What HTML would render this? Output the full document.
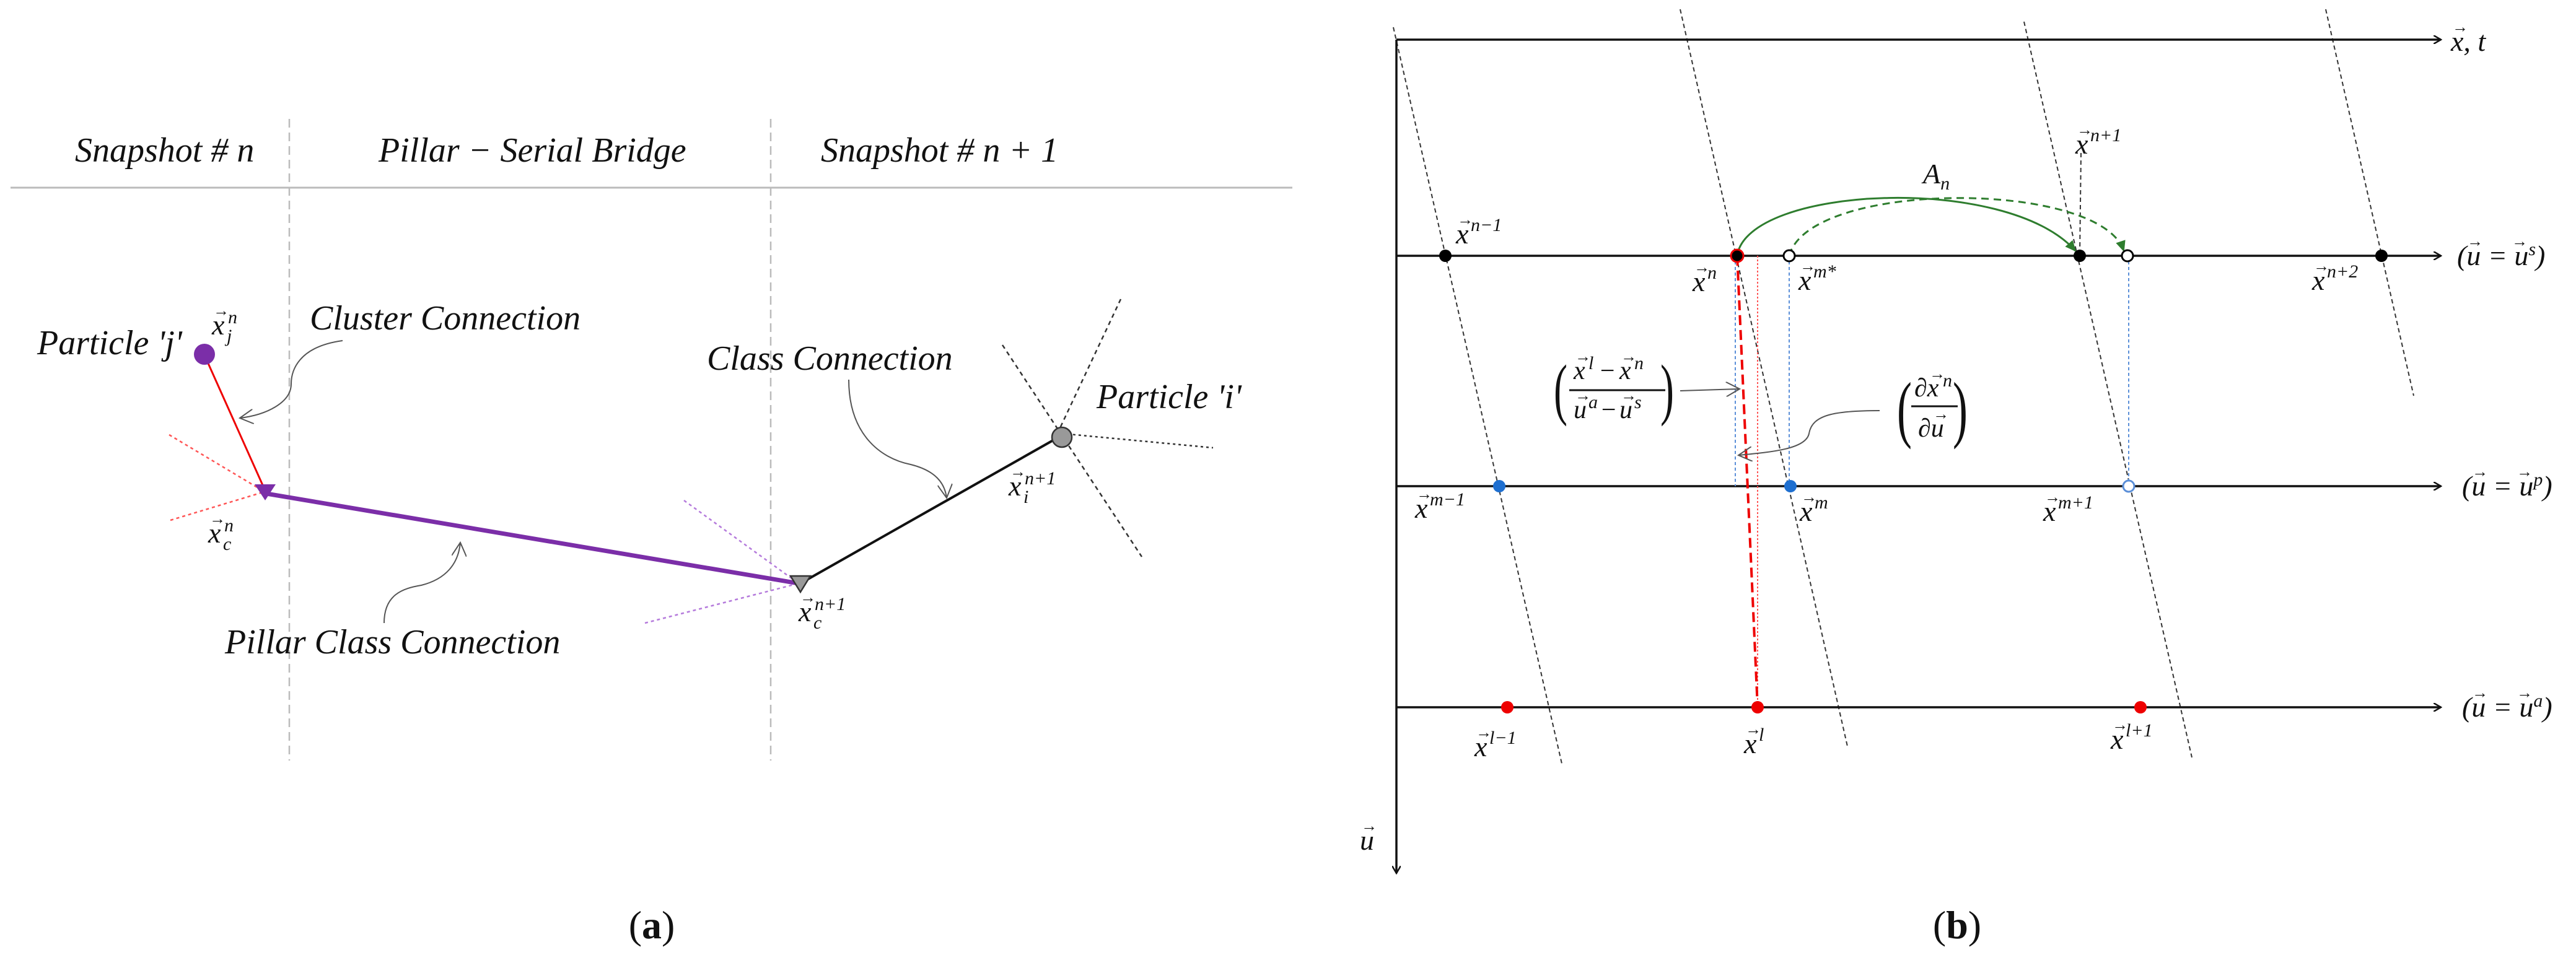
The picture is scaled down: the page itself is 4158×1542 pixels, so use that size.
<!DOCTYPE html>
<html><head><meta charset="utf-8"><style>
html,body{margin:0;padding:0;background:#fff}
svg{display:block}
text{font-family:"Liberation Serif",serif;font-style:italic;fill:#111}
.h{font-size:56px}
.m{font-size:46px}
.s{font-size:30px}
.a{font-size:26px;font-style:normal}
.p{font-style:normal;font-size:64px}
</style></head><body>
<svg width="4158" height="1542" viewBox="0 0 4158 1542" xmlns="http://www.w3.org/2000/svg">
<defs>
<marker id="ah" markerWidth="14" markerHeight="14" refX="12" refY="7" orient="auto" markerUnits="userSpaceOnUse"><path d="M0,0 L12,7 L0,14" fill="none" stroke="#111" stroke-width="2.5"/></marker>
<marker id="ahg" markerWidth="20" markerHeight="20" refX="16" refY="10" orient="auto" markerUnits="userSpaceOnUse"><path d="M0,2 L18,10 L0,18 z" fill="#2e7d2e"/></marker>
<marker id="ahs" markerWidth="24" markerHeight="24" refX="22" refY="12" orient="auto" markerUnits="userSpaceOnUse"><path d="M0,0 L22,12 L0,24" fill="none" stroke="#555" stroke-width="2"/></marker>
</defs>

<!-- ===== Panel (a) ===== -->
<line x1="17" y1="303" x2="2086" y2="303" stroke="#bbb" stroke-width="3"/>
<line x1="467" y1="192" x2="467" y2="1228" stroke="#bbb" stroke-width="2.5" stroke-dasharray="14,8"/>
<line x1="1244" y1="192" x2="1244" y2="1228" stroke="#bbb" stroke-width="2.5" stroke-dasharray="14,8"/>
<text class="h" x="121" y="261">Snapshot # n</text>
<text class="h" x="611" y="261">Pillar  − Serial Bridge</text>
<text class="h" x="1325" y="261">Snapshot # n + 1</text>

<line x1="273" y1="702" x2="427" y2="794" stroke="#f55" stroke-width="2.5" stroke-dasharray="5,5"/>
<line x1="275" y1="840" x2="427" y2="794" stroke="#f55" stroke-width="2.5" stroke-dasharray="5,5"/>
<line x1="1104" y1="808" x2="1289" y2="942" stroke="#b57bdc" stroke-width="2.5" stroke-dasharray="5,5"/>
<line x1="1041" y1="1006" x2="1289" y2="942" stroke="#b57bdc" stroke-width="2.5" stroke-dasharray="5,5"/>
<line x1="1618" y1="557" x2="1843" y2="899" stroke="#333" stroke-width="2.5" stroke-dasharray="7,6"/>
<line x1="1809" y1="483" x2="1703" y2="708" stroke="#333" stroke-width="2.5" stroke-dasharray="7,6"/>
<line x1="1714" y1="700" x2="1958" y2="723" stroke="#333" stroke-width="2.5" stroke-dasharray="4,5"/>

<line x1="333" y1="580" x2="427" y2="790" stroke="#e00" stroke-width="3"/>
<line x1="430" y1="797" x2="1289" y2="942" stroke="#7b2ea8" stroke-width="7"/>
<line x1="1292" y1="942" x2="1705" y2="708" stroke="#111" stroke-width="4"/>
<circle cx="330" cy="572" r="17" fill="#7b2ea8"/>
<path d="M411,782 L445,782 L428,808 z" fill="#7b2ea8"/>
<path d="M1276,930 L1308,930 L1292,956 z" fill="#999" stroke="#333" stroke-width="2.5"/>
<circle cx="1714" cy="706" r="16" fill="#999" stroke="#333" stroke-width="2.5"/>

<path d="M553,550 C480,560 470,600 470,620 C470,650 430,670 387,675" fill="none" stroke="#555" stroke-width="2" marker-end="url(#ahs)"/>
<path d="M1370,613 C1370,700 1420,740 1470,750 C1510,760 1525,780 1528,804" fill="none" stroke="#555" stroke-width="2" marker-end="url(#ahs)"/>
<path d="M620,1006 C620,960 650,950 680,945 C720,935 740,910 743,876" fill="none" stroke="#555" stroke-width="2" marker-end="url(#ahs)"/>

<text class="h" x="60" y="572">Particle 'j'</text>
<text class="m" x="342" y="540">x</text><text class="a" x="344" y="510">→</text><text class="s" x="368" y="522">n</text><text class="s" x="366" y="552">j</text>
<text class="h" x="500" y="532">Cluster Connection</text>
<text class="h" x="1141" y="597">Class Connection</text>
<text class="h" x="1770" y="659">Particle 'i'</text>
<text class="m" x="1628" y="800">x</text><text class="a" x="1630" y="770">→</text><text class="s" x="1654" y="782">n+1</text><text class="s" x="1652" y="812">i</text>
<text class="m" x="336" y="876">x</text><text class="a" x="338" y="846">→</text><text class="s" x="362" y="858">n</text><text class="s" x="360" y="888">c</text>
<text class="m" x="1289" y="1003">x</text><text class="a" x="1291" y="973">→</text><text class="s" x="1315" y="985">n+1</text><text class="s" x="1313" y="1015">c</text>
<text class="h" x="363" y="1055">Pillar Class Connection</text>
<text class="p" x="1052" y="1515" text-anchor="middle">(<tspan font-weight="bold">a</tspan>)</text>

<!-- ===== Panel (b) ===== -->
<g stroke="#333" stroke-width="2" stroke-dasharray="7,5">
<line x1="2249" y1="44" x2="2521" y2="1233"/>
<line x1="2712" y1="15" x2="2982" y2="1205"/>
<line x1="3267" y1="35" x2="3538" y2="1223"/>
<line x1="3754" y1="15" x2="3896" y2="639"/>
<line x1="3359" y1="247" x2="3357" y2="413"/>
</g>
<g stroke="#111" stroke-width="3.5" fill="none">
<line x1="2254" y1="64" x2="2254" y2="1410" marker-end="url(#ah)"/>
<line x1="2254" y1="64" x2="3940" y2="64" marker-end="url(#ah)"/>
<line x1="2254" y1="413" x2="3940" y2="413" marker-end="url(#ah)"/>
<line x1="2254" y1="785" x2="3940" y2="785" marker-end="url(#ah)"/>
<line x1="2254" y1="1142" x2="3940" y2="1142" marker-end="url(#ah)"/>
</g>
<g stroke="#5b8fd8" stroke-width="2" stroke-dasharray="5,4">
<line x1="2801" y1="413" x2="2801" y2="785"/>
<line x1="2888" y1="413" x2="2888" y2="785"/>
<line x1="3436" y1="413" x2="3436" y2="785"/>
</g>
<line x1="2837" y1="413" x2="2837" y2="1142" stroke="#f55" stroke-width="2" stroke-dasharray="3,3"/>
<line x1="2804" y1="413" x2="2837" y2="1142" stroke="#e00" stroke-width="4" stroke-dasharray="16,8"/>
<path d="M2804,413 C2820,300 3240,280 3350,405" fill="none" stroke="#2e7d2e" stroke-width="3" marker-end="url(#ahg)"/>
<path d="M2888,413 C2920,290 3390,290 3428,405" fill="none" stroke="#2e7d2e" stroke-width="3" stroke-dasharray="12,8" marker-end="url(#ahg)"/>
<circle cx="2333" cy="413" r="10" fill="#000"/>
<circle cx="2804" cy="413" r="10" fill="#000" stroke="#e00" stroke-width="3"/>
<circle cx="2888" cy="413" r="9" fill="#fff" stroke="#000" stroke-width="3"/>
<circle cx="3357" cy="413" r="10" fill="#000"/>
<circle cx="3434" cy="413" r="9" fill="#fff" stroke="#000" stroke-width="3"/>
<circle cx="3844" cy="413" r="10" fill="#000"/>
<circle cx="2420" cy="785" r="10" fill="#1e6fd0"/>
<circle cx="2890" cy="785" r="10" fill="#1e6fd0"/>
<circle cx="3436" cy="785" r="9" fill="#fff" stroke="#5b8fd8" stroke-width="3"/>
<circle cx="2433" cy="1142" r="10" fill="#e00"/>
<circle cx="2837" cy="1142" r="10" fill="#e00"/>
<circle cx="3455" cy="1142" r="10" fill="#e00"/>

<!-- fraction (x^l - x^n)/(u^a - u^s) -->
<text x="2508" y="665" style="font-size:110px;font-style:normal;font-weight:100" transform="translate(2508,0) scale(0.6,1) translate(-2508,0)">(</text>
<text class="m" x="2540" y="612" style="font-size:42px">x</text><text class="a" x="2542" y="584">→</text><text class="s" x="2564" y="596">l</text>
<text class="m" x="2580" y="612" style="font-size:42px">−</text>
<text class="m" x="2614" y="612" style="font-size:42px">x</text><text class="a" x="2616" y="584">→</text><text class="s" x="2638" y="596">n</text>
<line x1="2533" y1="630" x2="2688" y2="630" stroke="#111" stroke-width="3"/>
<text class="m" x="2540" y="675" style="font-size:42px">u</text><text class="a" x="2542" y="647">→</text><text class="s" x="2564" y="659">a</text>
<text class="m" x="2582" y="675" style="font-size:42px">−</text>
<text class="m" x="2614" y="675" style="font-size:42px">u</text><text class="a" x="2616" y="647">→</text><text class="s" x="2638" y="659">s</text>
<text x="2680" y="665" style="font-size:110px;font-style:normal" transform="translate(2680,0) scale(0.6,1) translate(-2680,0)">)</text>
<path d="M2712,631 L2808,628" fill="none" stroke="#555" stroke-width="2" marker-end="url(#ahs)"/>

<!-- fraction dx^n/du -->
<text x="3062" y="700" style="font-size:120px;font-style:normal" transform="translate(3062,0) scale(0.6,1) translate(-3062,0)">(</text>
<text x="3090" y="640" style="font-size:42px">∂x</text><text class="a" x="3114" y="612">→</text><text class="s" x="3136" y="624">n</text>
<line x1="3085" y1="656" x2="3160" y2="656" stroke="#111" stroke-width="3"/>
<text x="3096" y="705" style="font-size:42px">∂u</text><text class="a" x="3120" y="677">→</text>
<text x="3152" y="700" style="font-size:120px;font-style:normal" transform="translate(3152,0) scale(0.6,1) translate(-3152,0)">)</text>
<path d="M3034,663 C2960,663 2925,670 2920,700 C2915,725 2860,730 2806,735" fill="none" stroke="#555" stroke-width="2" marker-end="url(#ahs)"/>

<!-- axis labels -->
<text class="m" x="3956" y="82">x, t</text><text class="a" x="3958" y="52">→</text>
<text class="m" x="2195" y="1372">u</text><text class="a" x="2197" y="1342">→</text>
<text class="m" x="3966" y="428">(u = u<tspan class="s" dy="-16">s</tspan><tspan dy="16">)</tspan></text><text class="a" x="3982" y="398">→</text><text class="a" x="4054" y="398">→</text>
<text class="m" x="3974" y="800">(u = u<tspan class="s" dy="-16">p</tspan><tspan dy="16">)</tspan></text><text class="a" x="3990" y="770">→</text><text class="a" x="4062" y="770">→</text>
<text class="m" x="3974" y="1157">(u = u<tspan class="s" dy="-16">a</tspan><tspan dy="16">)</tspan></text><text class="a" x="3990" y="1127">→</text><text class="a" x="4062" y="1127">→</text>
<text class="m" x="3104" y="296">A<tspan class="s" dy="10">n</tspan></text>

<!-- point labels: x, arrow, superscript -->
<text class="m" x="2350" y="393">x</text><text class="a" x="2352" y="363">→</text><text class="s" x="2374" y="373">n−1</text>
<text class="m" x="2732" y="470">x</text><text class="a" x="2734" y="440">→</text><text class="s" x="2756" y="450">n</text>
<text class="m" x="2903" y="468">x</text><text class="a" x="2905" y="438">→</text><text class="s" x="2927" y="448">m*</text>
<text class="m" x="3350" y="248">x</text><text class="a" x="3352" y="218">→</text><text class="s" x="3374" y="228">n+1</text>
<text class="m" x="3732" y="468">x</text><text class="a" x="3734" y="438">→</text><text class="s" x="3756" y="448">n+2</text>
<text class="m" x="2284" y="836">x</text><text class="a" x="2286" y="806">→</text><text class="s" x="2308" y="816">m−1</text>
<text class="m" x="2905" y="841">x</text><text class="a" x="2907" y="811">→</text><text class="s" x="2929" y="821">m</text>
<text class="m" x="3298" y="841">x</text><text class="a" x="3300" y="811">→</text><text class="s" x="3322" y="821">m+1</text>
<text class="m" x="2380" y="1221">x</text><text class="a" x="2382" y="1191">→</text><text class="s" x="2404" y="1201">l−1</text>
<text class="m" x="2815" y="1216">x</text><text class="a" x="2817" y="1186">→</text><text class="s" x="2839" y="1196">l</text>
<text class="m" x="3407" y="1209">x</text><text class="a" x="3409" y="1179">→</text><text class="s" x="3431" y="1189">l+1</text>
<text class="p" x="3159" y="1515" text-anchor="middle">(<tspan font-weight="bold">b</tspan>)</text>
</svg>
</body></html>
